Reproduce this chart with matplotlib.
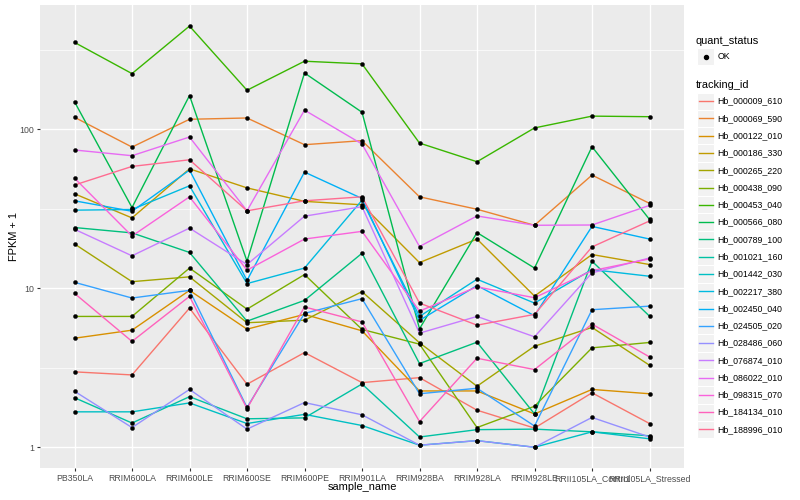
import numpy as np
import matplotlib
matplotlib.use("Agg")
import matplotlib.pyplot as plt
from matplotlib.patches import Rectangle
from matplotlib.ticker import FixedLocator, NullFormatter

plt.rcParams['font.family'] = ['Liberation Sans', 'DejaVu Sans']

# ---------------- data (FPKM + 1) ----------------
samples = ["PB350LA", "RRIM600LA", "RRIM600LE", "RRIM600SE", "RRIM600PE",
           "RRIM901LA", "RRIM928BA", "RRIM928LA", "RRIM928LE",
           "RRII105LA_Control", "RRII105LA_Stressed"]

tracking_ids = ["Hb_000009_610", "Hb_000069_590", "Hb_000122_010", "Hb_000186_330",
                "Hb_000265_220", "Hb_000438_090", "Hb_000453_040", "Hb_000566_080",
                "Hb_000789_100", "Hb_001021_160", "Hb_001442_030", "Hb_002217_380",
                "Hb_002450_040", "Hb_024505_020", "Hb_028486_060", "Hb_076874_010",
                "Hb_086022_010", "Hb_098315_070", "Hb_184134_010", "Hb_188996_010"]

series_colors = ["#F8766D", "#EA8331", "#D89000", "#C09B00", "#A3A500", "#7CAE00",
                 "#39B600", "#00BB4E", "#00BF7D", "#00C1A3", "#00BFC4", "#00BAE0",
                 "#00B0F6", "#35A2FF", "#9590FF", "#C77CFF", "#E76BF3", "#FA62DB",
                 "#FF62BC", "#FF6C91"]

hb_000009_610 = [2.98, 2.85, 7.50, 2.49, 3.94, 2.55, 2.74, 1.71, 1.32, 2.20, 1.41]
hb_000069_590 = [119, 77.3, 115.6, 117.8, 80.0, 84.8, 37.6, 31.4, 24.9, 51.5, 34.2]
hb_000122_010 = [4.85, 5.45, 9.70, 5.53, 6.85, 5.40, 2.26, 2.26, 1.62, 2.31, 2.17]
hb_000186_330 = [39.3, 27.7, 56.4, 42.8, 35.2, 33.5, 14.5, 20.4, 8.93, 16.3, 14.1]
hb_000265_220 = [19.0, 11.0, 11.8, 6.07, 6.30, 9.52, 4.54, 2.42, 4.32, 5.67, 3.28]
hb_000438_090 = [6.65, 6.65, 13.4, 7.39, 12.2, 5.51, 4.45, 1.33, 1.81, 4.22, 4.56]
hb_000453_040 = [352, 224, 446, 176, 268, 258, 81.9, 62.5, 102, 121, 120]
hb_000566_080 = [149, 32.2, 163, 14.8, 226, 128, 5.56, 22.4, 13.4, 77.7, 27.1]
hb_000789_100 = [24.1, 22.3, 16.8, 6.21, 8.39, 16.6, 3.36, 4.58, 1.62, 14.8, 6.68]
hb_001021_160 = [2.05, 1.42, 2.08, 1.51, 1.53, 2.50, 1.16, 1.29, 1.30, 1.25, 1.18]
hb_001442_030 = [1.67, 1.67, 1.90, 1.41, 1.61, 1.37, 1.03, 1.10, 1.00, 1.25, 1.13]
hb_002217_380 = [31.0, 31.3, 44.1, 10.7, 13.4, 35.8, 6.65, 11.4, 8.07, 13.1, 11.9]
hb_002450_040 = [35.5, 30.5, 55.4, 11.2, 53.8, 36.7, 6.28, 10.4, 6.72, 24.5, 20.4]
hb_024505_020 = [10.9, 8.68, 9.70, 1.78, 6.95, 8.60, 2.17, 2.35, 1.36, 7.33, 7.72]
hb_028486_060 = [2.25, 1.33, 2.31, 1.30, 1.91, 1.60, 1.03, 1.10, 1.00, 1.54, 1.16]
hb_076874_010 = [23.5, 16.0, 23.9, 14.1, 28.4, 32.6, 5.22, 6.65, 4.95, 12.5, 15.5]
hb_086022_010 = [74.1, 68.2, 89.4, 30.7, 132, 80.8, 18.3, 28.5, 24.9, 25.0, 33.2]
hb_098315_070 = [49.3, 21.3, 37.6, 13.0, 20.4, 22.8, 7.18, 10.2, 8.72, 12.9, 15.3]
hb_184134_010 = [9.29, 4.63, 8.89, 1.75, 7.63, 6.14, 1.45, 3.63, 3.08, 5.95, 3.70]
hb_188996_010 = [44.6, 58.4, 64.3, 30.7, 35.5, 37.6, 8.07, 5.86, 6.85, 18.2, 26.5]

series_values = [hb_000009_610, hb_000069_590, hb_000122_010, hb_000186_330,
                 hb_000265_220, hb_000438_090, hb_000453_040, hb_000566_080,
                 hb_000789_100, hb_001021_160, hb_001442_030, hb_002217_380,
                 hb_002450_040, hb_024505_020, hb_028486_060, hb_076874_010,
                 hb_086022_010, hb_098315_070, hb_184134_010, hb_188996_010]

quant_status = ["OK"]

y_ticks = [1, 10, 100]
y_tick_labels = ["1", "10", "100"]

# ---------------- figure ----------------
W, H = 800, 500
fig = plt.figure(figsize=(W / 100, H / 100), dpi=100)
fig.patch.set_facecolor("white")

pl, pr, pt, pb = 40, 684, 5, 468.3
ax = fig.add_axes([pl / W, 1 - pb / H, (pr - pl) / W, (pb - pt) / H])
ax.set_facecolor("#EBEBEB")

x = np.arange(1, len(samples) + 1)
for vals, col in zip(series_values, series_colors):
    ax.plot(x, vals, color=col, lw=1.0, zorder=2, solid_joinstyle="round")
for vals in series_values:
    ax.plot(x, vals, ls="none", marker="o", ms=2.9, mec="black", mfc="black",
            mew=0.3, zorder=3)

ax.set_yscale("log")
allv = np.concatenate([np.asarray(v, float) for v in series_values])
lo, hi = np.log10(allv.min()), np.log10(allv.max())
padv = 0.05 * (hi - lo)
ax.set_ylim(10 ** (lo - padv), 10 ** (hi + padv))
ax.set_xlim(0.4, len(samples) + 0.6)

ax.yaxis.set_major_locator(FixedLocator(y_ticks))
ax.set_yticklabels(y_tick_labels)
ax.yaxis.set_minor_locator(FixedLocator([10 ** 0.5, 10 ** 1.5, 10 ** 2.5]))
ax.yaxis.set_minor_formatter(NullFormatter())
ax.set_xticks(x)
ax.set_xticklabels(samples)

ax.grid(True, which="major", color="white", lw=1.0)
ax.grid(True, which="minor", axis="y", color="white", lw=0.5)
ax.set_axisbelow(True)
for s in ax.spines.values():
    s.set_visible(False)

ax.tick_params(which="major", length=2.0, width=0.8, color="#333333",
               labelcolor="#4D4D4D", labelsize=6.3, pad=2.3)
ax.tick_params(axis="y", which="minor", length=0)

ax.set_xlabel("sample_name", fontsize=7.9, color="black")
ax.set_ylabel("FPKM + 1", fontsize=7.9, color="black")
ax.xaxis.label.set_va("center")
ax.yaxis.label.set_va("center")
ax.xaxis.set_label_coords(0.5, -(487.3 - pb) / (pb - pt))
ax.yaxis.set_label_coords(-(pl - 14) / (pr - pl), 0.5)

# ---------------- legend (drawn in pixel coordinates) ----------------
lax = fig.add_axes([0, 0, 1, 1], zorder=5)
lax.set_xlim(0, W)
lax.set_ylim(H, 0)
lax.axis("off")

kx, kw, kh = 697, 17.28, 17.28
tx = 717.5

lax.text(696, 41, "quant_status", fontsize=7.9, va="center", ha="left")
ky = 48
lax.add_patch(Rectangle((kx, ky), kw, kh, facecolor="#F2F2F2",
                        edgecolor="white", lw=0.8))
lax.plot([kx + kw / 2], [ky + kh / 2], marker="o", ms=2.9, color="black")
lax.text(tx, ky + kh / 2, quant_status[0], fontsize=6.3, va="center", ha="left")

lax.text(696, 84.5, "tracking_id", fontsize=7.9, va="center", ha="left")
ky0 = 92.5
for i, (tid, col) in enumerate(zip(tracking_ids, series_colors)):
    ky = ky0 + i * kh
    lax.add_patch(Rectangle((kx, ky), kw, kh, facecolor="#F2F2F2",
                            edgecolor="white", lw=0.8))
    lax.plot([kx + 1.7, kx + kw - 1.7], [ky + kh / 2, ky + kh / 2],
             color=col, lw=1.0)
    lax.text(tx, ky + kh / 2, tid, fontsize=6.3, va="center", ha="left")

fig.savefig("out.png", dpi=100, facecolor="white")
